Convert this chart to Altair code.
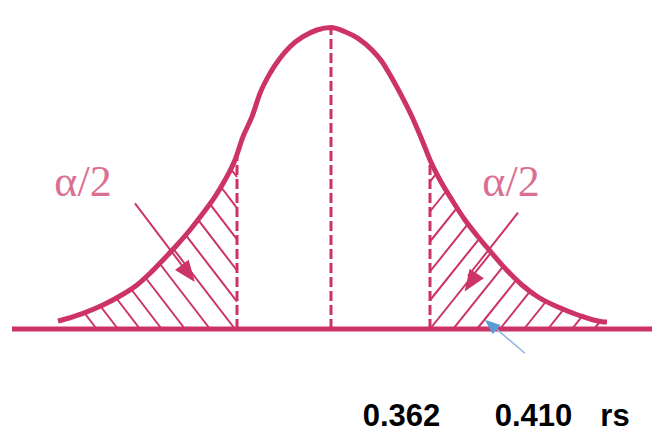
import altair as alt
import pandas as pd

# ---- data (x in px-like units, h = height above baseline) ----
curve_x = [58, 62, 83, 103, 120, 137, 150, 163, 177, 190, 203, 215, 225, 235, 243, 252,
           260, 270, 280, 290, 303, 317, 331, 345, 358, 372, 382, 392, 402, 412, 422,
           430, 440, 452, 465, 478, 492, 505, 522, 538, 558, 578, 602, 607]
curve_h = [8, 9, 15.7, 24, 33, 44, 55.7, 69, 84, 99, 115.7, 132.3, 149, 169, 192.3, 212.3,
           235.7, 255.7, 270.7, 282.3, 292.3, 299, 301.5, 297.3, 290.7, 279, 267.3, 250.7,
           232.3, 212.3, 189, 169, 149, 129, 109, 92.3, 75.7, 60.7, 44, 32, 22, 14, 7.3, 7]

baseline_x = [12]
baseline_x2 = [660]

cut_x = [237, 331, 430]
cut_top = [172, 301, 169]

hatch_x = [84.5, 100.3, 116.2, 131, 145.4, 160, 173.2, 185.6, 198, 210, 221, 230.6,
           594, 572, 548, 524, 500, 477, 453, 430, 430, 430, 430, 430, 430]
hatch_h = [16, 23, 31, 40, 51.5, 65, 80.3, 94.2, 109.3, 124.9, 142, 160.3,
           0, 0, 0, 0, 0, 0, 0, 0, 28.75, 57.5, 87.5, 117.5, 147.5]
hatch_x2 = [96.7, 118, 140, 161.7, 185, 210, 235, 237, 237, 237, 237, 237,
            600.2, 582.3, 563.8, 546.4, 530.2, 516.5, 503.2, 491.1, 479.6, 468, 457, 446.4, 436.6]
hatch_h2 = [0, 0, 0, 0, 0, 0, 0, 27.3, 58.5, 89.7, 120.9, 152,
            7.7, 12.9, 19.8, 28, 37.8, 49.3, 62.7, 76.4, 90.7, 105.1, 121.1, 138, 155.7]

arrow_x = [135, 518]
arrow_h = [125.7, 116.3]
arrow_x2 = [190, 468]
arrow_h2 = [53, 53]
head_x = [188, 471]
head_h = [56, 47]
head_angle = [143, 214]

blue_x = [525]
blue_h = [-24.3]
blue_x2 = [490]
blue_h2 = [5.5]
blue_head_x = [491]
blue_head_h = [4]
blue_head_angle = [310]

label_text = ["\u03b1/2", "\u03b1/2"]
label_x = [83, 511]
label_h = [133, 133]

bottom_text = ["0.362", "0.410", "rs"]
bottom_x = [401.5, 533.5, 615]
bottom_h = [-97, -97, -97]

CRIMSON = "#cc3366"

xs = alt.Scale(domain=[8, 652], zero=False, nice=False)
ys = alt.Scale(domain=[-105, 321], zero=False, nice=False)

def X(f="x"):
    return alt.X(f + ":Q", scale=xs, axis=None)

def Y(f="h"):
    return alt.Y(f + ":Q", scale=ys, axis=None)

curve_df = pd.DataFrame({"x": curve_x, "h": curve_h})
base_df = pd.DataFrame({"x": baseline_x, "x2": baseline_x2, "h": [0]})
cut_df = pd.DataFrame({"x": cut_x, "h": [0] * len(cut_x), "h2": cut_top})
hatch_df = pd.DataFrame({"x": hatch_x, "h": hatch_h, "x2": hatch_x2, "h2": hatch_h2})
arrow_df = pd.DataFrame({"x": arrow_x, "h": arrow_h, "x2": arrow_x2, "h2": arrow_h2})
head_df = pd.DataFrame({"x": head_x, "h": head_h, "a": head_angle})
blue_df = pd.DataFrame({"x": blue_x, "h": blue_h, "x2": blue_x2, "h2": blue_h2})
bhead_df = pd.DataFrame({"x": blue_head_x, "h": blue_head_h, "a": blue_head_angle})
label_df = pd.DataFrame({"t": label_text, "x": label_x, "h": label_h})
bottom_df = pd.DataFrame({"t": bottom_text, "x": bottom_x, "h": bottom_h})

hatch = alt.Chart(hatch_df).mark_rule(color=CRIMSON, strokeWidth=2).encode(
    x=X(), y=Y(), x2="x2:Q", y2="h2:Q")

cuts = alt.Chart(cut_df).mark_rule(color=CRIMSON, strokeWidth=3, strokeDash=[10, 4]).encode(
    x=X(), y=Y(), y2="h2:Q")

baseline = alt.Chart(base_df).mark_rule(color=CRIMSON, strokeWidth=5).encode(
    x=X(), x2="x2:Q", y=Y())

curve = alt.Chart(curve_df).mark_line(color=CRIMSON, strokeWidth=5, interpolate="monotone").encode(
    x=X(), y=Y(), order="x:Q")

arrows = alt.Chart(arrow_df).mark_rule(color=CRIMSON, strokeWidth=2).encode(
    x=X(), y=Y(), x2="x2:Q", y2="h2:Q")

head_path = "M0,-1L0.75,0.9L-0.75,0.9Z"
heads = alt.Chart(head_df).mark_point(shape=head_path, filled=True, color=CRIMSON, opacity=1,
                                      size=520).encode(
    x=X(), y=Y(), angle=alt.Angle("a:Q", scale=None))

blue = alt.Chart(blue_df).mark_rule(color="#8db3e2", strokeWidth=1.5).encode(
    x=X(), y=Y(), x2="x2:Q", y2="h2:Q")

bheads = alt.Chart(bhead_df).mark_point(shape=head_path, filled=True, color="#5b9bd5", opacity=1,
                                        size=260).encode(
    x=X(), y=Y(), angle=alt.Angle("a:Q", scale=None))

labels = alt.Chart(label_df).mark_text(font="Liberation Serif", fontSize=44, color=CRIMSON,
                                       opacity=0.7, align="center", baseline="alphabetic").encode(
    x=X(), y=Y(), text="t:N")

bottom = alt.Chart(bottom_df).mark_text(font="Liberation Sans", fontSize=31, fontWeight="bold",
                                        color="#000000", align="center", baseline="alphabetic").encode(
    x=X(), y=Y(), text="t:N")

chart = alt.layer(hatch, cuts, baseline, curve, arrows, heads, blue, bheads, labels, bottom).properties(
    width=644, height=426, padding=0, autosize=alt.AutoSizeParams(type="none"), background="white"
).configure_view(stroke=None)

chart.save("out.html", embed_options={"renderer": "svg", "actions": False})
